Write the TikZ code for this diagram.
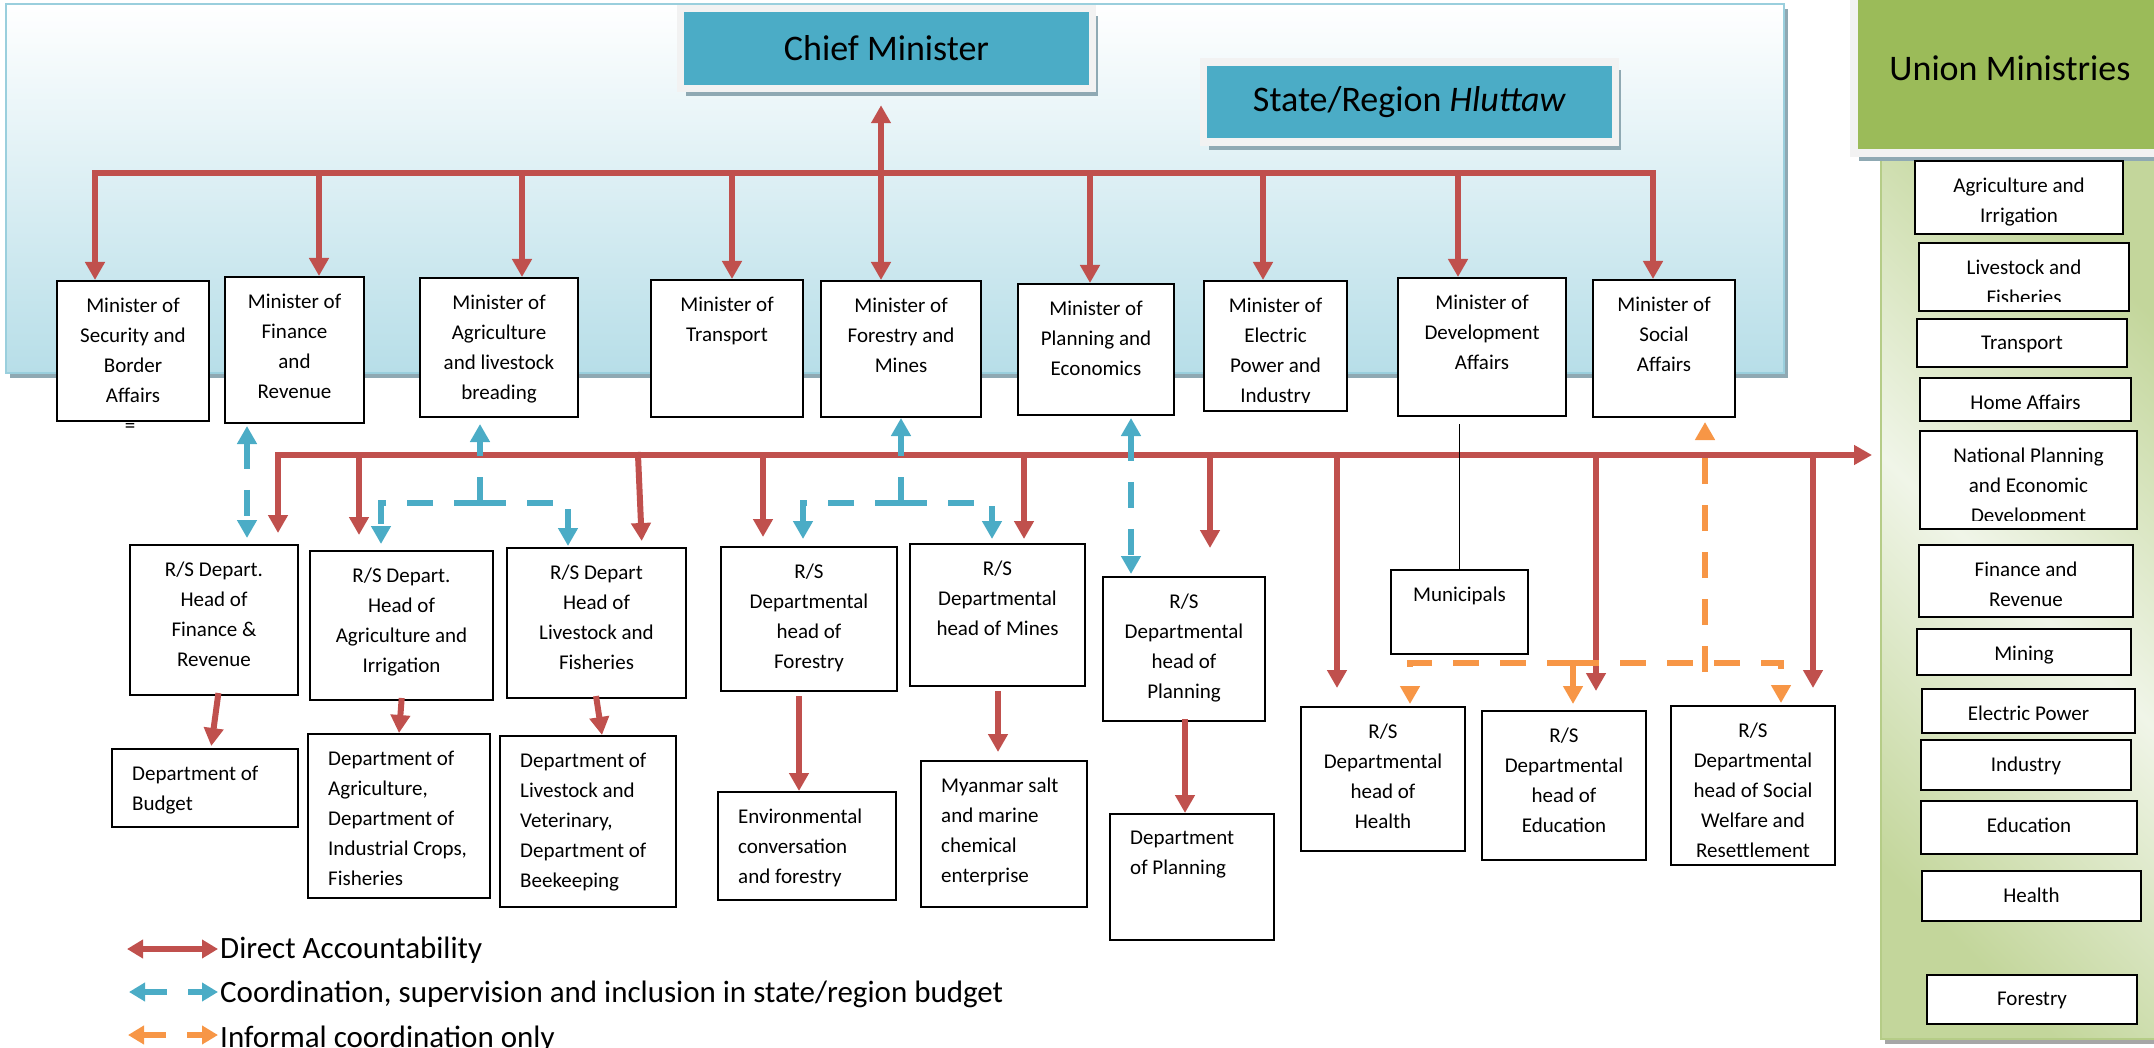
\documentclass[tikz,border=0pt]{standalone}
\usepackage{fontspec}
\setmainfont{Carlito}
\usetikzlibrary{arrows.meta,shadows}

\definecolor{redc}{HTML}{C0504D}
\definecolor{bluec}{HTML}{4BACC6}
\definecolor{orangec}{HTML}{F79646}
\definecolor{greenc}{HTML}{9BBB59}
\definecolor{panelblue}{HTML}{B7DEE8}
\definecolor{panelline}{HTML}{9ACFDD}
\definecolor{framec}{HTML}{F2F2F2}
\definecolor{shadowc}{HTML}{8FA9B3}
\definecolor{greenlight}{HTML}{F0F5E8}
\definecolor{greenmid}{HTML}{C3D69B}
\definecolor{greenedge}{HTML}{B5CC87}

\newcommand{\boxfont}{\fontsize{21}{30}\selectfont}
\newcommand{\titlefont}{\fontsize{36}{43}\selectfont}
\newcommand{\legfont}{\fontsize{31}{37}\selectfont}

\tikzset{
  box/.style={draw=black, line width=2pt, fill=white, anchor=north west, inner sep=0pt},
  boxtext/.style={anchor=north, align=center, inner sep=0pt, font=\boxfont},
  lefttext/.style={anchor=north west, align=left, inner sep=0pt, font=\boxfont},
  titlebox/.style={fill=bluec, draw=framec, line width=7.5pt, minimum width=412pt, minimum height=80pt,
      inner sep=0pt, font=\titlefont,
      drop shadow={shadow xshift=5pt, shadow yshift=-8pt, fill=shadowc, opacity=1}},
  bluepanel/.style={draw=panelline, line width=2pt, top color=white, bottom color=panelblue,
      drop shadow={shadow xshift=4pt, shadow yshift=-5pt, fill=shadowc, opacity=1}},
  greenpanel/.style={draw=greenedge, line width=2pt, top color=greenmid, bottom color=greenmid,
      middle color=greenlight, shading angle=-45,
      drop shadow={shadow xshift=4pt, shadow yshift=-5pt, fill=black!35, opacity=1}},
  redline/.style={draw=redc, line width=6pt, line cap=rect},
  redarr/.style={redline, ->},
  bluedash/.style={draw=bluec, line width=6pt, dash pattern=on 26pt off 21pt},
  orgdash/.style={draw=orangec, line width=6pt, dash pattern=on 26pt off 21pt},
  legtext/.style={anchor=base west, inner sep=0pt, font=\legfont},
}

\begin{document}
\begin{tikzpicture}[x=1pt, y=-1pt, >={Triangle[length=18pt,width=19pt]}]
    \useasboundingbox (0,0) rectangle (2154,1048);
    \clip (0,0) rectangle (2154,1048);

    % Backgrounds
    \draw[bluepanel] (6,4) rectangle (1784,373);
    \draw[greenpanel] (1881,160) rectangle (2170,1039);

    % Head boxes
    \node[titlebox] (chief) at (886.5,48.5) {Chief Minister};
    \node[titlebox] (hluttaw) at (1409.5,102) {State/Region \textit{Hluttaw}};
    \node[titlebox, fill=greenc, minimum width=312pt, minimum height=170pt] (union) at (2010,68) {Union Ministries};

    % Ministers
    \node[box, minimum width=152pt, minimum height=140pt] (msec) at (56,280) {};
    \node[boxtext] (msectext) at ([yshift=-18pt]msec.north) {Minister of\\Security and\\Border\\Affairs};
    \node[font=\boxfont, anchor=base, inner sep=0pt] (eqsign) at (130,432) {=};
    \node[box, minimum width=139pt, minimum height=146pt] (mfin) at (224,276) {};
    \node[boxtext] (mfintext) at ([yshift=-18pt]mfin.north) {Minister of\\Finance\\and\\Revenue};
    \node[box, minimum width=158pt, minimum height=139pt] (magr) at (419,277) {};
    \node[boxtext] (magrtext) at ([yshift=-18pt]magr.north) {Minister of\\Agriculture\\and livestock\\breading};
    \node[box, minimum width=152pt, minimum height=137pt] (mtra) at (650,279) {};
    \node[boxtext] (mtratext) at ([yshift=-18pt]mtra.north) {Minister of\\Transport};
    \node[box, minimum width=160pt, minimum height=136pt] (mfor) at (820,280) {};
    \node[boxtext] (mfortext) at ([yshift=-18pt]mfor.north) {Minister of\\Forestry and\\Mines};
    \node[box, minimum width=156pt, minimum height=131pt] (mpla) at (1017,283) {};
    \node[boxtext] (mplatext) at ([yshift=-18pt]mpla.north) {Minister of\\Planning and\\Economics};
    \node[box, minimum width=143pt, minimum height=130pt] (mele) at (1203,280) {};
    \begin{scope}
      \clip (mele.north west) rectangle ([yshift=10pt]mele.south east);
      \node[boxtext] (meletext) at ([yshift=-18pt]mele.north) {Minister of\\Electric\\Power and\\Industry};
    \end{scope}
    \node[box, minimum width=168pt, minimum height=138pt] (mdev) at (1397,277) {};
    \node[boxtext] (mdevtext) at ([yshift=-18pt]mdev.north) {Minister of\\Development\\Affairs};
    \node[box, minimum width=142pt, minimum height=137pt] (msoc) at (1592,279) {};
    \node[boxtext] (msoctext) at ([yshift=-18pt]msoc.north) {Minister of\\Social\\Affairs};

    % R/S departmental heads
    \node[box, minimum width=168pt, minimum height=150pt] (rsfin) at (129,544) {};
    \node[boxtext] (rsfintext) at ([yshift=-18pt]rsfin.north) {R/S Depart.\\Head of\\Finance \&\\Revenue};
    \node[box, minimum width=183pt, minimum height=149pt] (rsagr) at (309,550) {};
    \node[boxtext] (rsagrtext) at ([yshift=-18pt]rsagr.north) {R/S Depart.\\Head of\\Agriculture and\\Irrigation};
    \node[box, minimum width=179pt, minimum height=150pt] (rsliv) at (506,547) {};
    \node[boxtext] (rslivtext) at ([yshift=-18pt]rsliv.north) {R/S Depart\\Head of\\Livestock and\\Fisheries};
    \node[box, minimum width=176pt, minimum height=144pt] (rsfor) at (720,546) {};
    \node[boxtext] (rsfortext) at ([yshift=-18pt]rsfor.north) {R/S\\Departmental\\head of\\Forestry};
    \node[box, minimum width=175pt, minimum height=142pt] (rsmin) at (909,543) {};
    \node[boxtext] (rsmintext) at ([yshift=-18pt]rsmin.north) {R/S\\Departmental\\head of Mines};
    \node[box, minimum width=162pt, minimum height=144pt] (rspla) at (1102,576) {};
    \node[boxtext] (rsplatext) at ([yshift=-18pt]rspla.north) {R/S\\Departmental\\head of\\Planning};
    \node[box, minimum width=137pt, minimum height=84pt] (mun) at (1390,569) {};
    \node[boxtext] (muntext) at ([yshift=-18pt]mun.north) {Municipals};
    \node[box, minimum width=164pt, minimum height=144pt] (rshea) at (1300,706) {};
    \node[boxtext] (rsheatext) at ([yshift=-18pt]rshea.north) {R/S\\Departmental\\head of\\Health};
    \node[box, minimum width=164pt, minimum height=149pt] (rsedu) at (1481,710) {};
    \node[boxtext] (rsedutext) at ([yshift=-18pt]rsedu.north) {R/S\\Departmental\\head of\\Education};
    \node[box, minimum width=164pt, minimum height=159pt] (rssoc) at (1670,705) {};
    \begin{scope}
      \clip (rssoc.north west) rectangle ([yshift=10pt]rssoc.south east);
      \node[boxtext] (rssoctext) at ([yshift=-18pt]rssoc.north) {R/S\\Departmental\\head of Social\\Welfare and\\Resettlement};
    \end{scope}

    % Departments
    \node[box, minimum width=186pt, minimum height=78pt] (dbud) at (111,748) {};
    \node[lefttext] (dbudtext) at ([shift={(21pt,-18pt)}]dbud.north west) {Department of\\Budget};
    \node[box, minimum width=182pt, minimum height=164pt] (dagr) at (307,733) {};
    \node[lefttext] (dagrtext) at ([shift={(21pt,-18pt)}]dagr.north west) {Department of\\Agriculture,\\Department of\\Industrial Crops,\\Fisheries};
    \node[box, minimum width=176pt, minimum height=171pt] (dliv) at (499,735) {};
    \node[lefttext] (dlivtext) at ([shift={(21pt,-18pt)}]dliv.north west) {Department of\\Livestock and\\Veterinary,\\Department of\\Beekeeping};
    \node[box, minimum width=178pt, minimum height=108pt] (denv) at (717,791) {};
    \node[lefttext] (denvtext) at ([shift={(21pt,-18pt)}]denv.north west) {Environmental\\conversation\\and forestry};
    \node[box, minimum width=166pt, minimum height=146pt] (dsalt) at (920,760) {};
    \node[lefttext] (dsalttext) at ([shift={(21pt,-18pt)}]dsalt.north west) {Myanmar salt\\and marine\\chemical\\enterprise};
    \node[box, minimum width=164pt, minimum height=126pt] (dpla) at (1109,813) {};
    \node[lefttext] (dplatext) at ([shift={(21pt,-18pt)}]dpla.north west) {Department\\of Planning};

    % Union ministries
    \node[box, minimum width=208pt, minimum height=73pt] (uagr) at (1914,160) {};
    \node[boxtext] (uagrtext) at ([yshift=-18pt]uagr.north) {Agriculture and\\Irrigation};
    \node[box, minimum width=210pt, minimum height=68pt] (uliv) at (1918,242) {};
    \begin{scope}
      \clip (uliv.north west) rectangle ([yshift=10pt]uliv.south east);
      \node[boxtext] (ulivtext) at ([yshift=-18pt]uliv.north) {Livestock and\\Fisheries};
    \end{scope}
    \node[box, minimum width=210pt, minimum height=48pt] (utra) at (1916,318) {};
    \node[boxtext] (utratext) at ([yshift=-18pt]utra.north) {Transport};
    \node[box, minimum width=211pt, minimum height=43pt] (uhom) at (1919,377) {};
    \node[boxtext] (uhomtext) at ([yshift=-18pt]uhom.north) {Home Affairs};
    \node[box, minimum width=217pt, minimum height=98pt] (upla) at (1919,430) {};
    \begin{scope}
      \clip (upla.north west) rectangle ([yshift=10pt]upla.south east);
      \node[boxtext] (uplatext) at ([yshift=-18pt]upla.north) {National Planning\\and Economic\\Development};
    \end{scope}
    \node[box, minimum width=214pt, minimum height=72pt] (ufin) at (1918,544) {};
    \node[boxtext] (ufintext) at ([yshift=-18pt]ufin.north) {Finance and\\Revenue};
    \node[box, minimum width=214pt, minimum height=46pt] (umin) at (1916,628) {};
    \node[boxtext] (umintext) at ([yshift=-18pt]umin.north) {Mining};
    \node[box, minimum width=213pt, minimum height=44pt] (uele) at (1921,688) {};
    \node[boxtext] (ueletext) at ([yshift=-18pt]uele.north) {Electric Power};
    \node[box, minimum width=210pt, minimum height=50pt] (uind) at (1920,739) {};
    \node[boxtext] (uindtext) at ([yshift=-18pt]uind.north) {Industry};
    \node[box, minimum width=216pt, minimum height=53pt] (uedu) at (1920,800) {};
    \node[boxtext] (uedutext) at ([yshift=-18pt]uedu.north) {Education};
    \node[box, minimum width=219pt, minimum height=50pt] (uhea) at (1921,870) {};
    \node[boxtext] (uheatext) at ([yshift=-18pt]uhea.north) {Health};
    \node[box, minimum width=210pt, minimum height=49pt] (ufor) at (1926,974) {};
    \node[boxtext] (ufortext) at ([yshift=-18pt]ufor.north) {Forestry};

    % Direct accountability, upper level
    \draw[redline] (95,173) -- (1653,173);
    \draw[redarr] (95,173) -- (95,0 |- msec.north);
    \draw[redarr] (319,173) -- (319,0 |- mfin.north);
    \draw[redarr] (522,173) -- (522,0 |- magr.north);
    \draw[redarr] (732,173) -- (732,0 |- mtra.north);
    \draw[redline, <->, shorten <=13pt] (881,0 |- chief.south) -- (881,0 |- mfor.north);
    \draw[redarr] (1090,173) -- (1090,0 |- mpla.north);
    \draw[redarr] (1263,173) -- (1263,0 |- mele.north);
    \draw[redarr] (1458,173) -- (1458,0 |- mdev.north);
    \draw[redarr] (1653,173) -- (1653,0 |- msoc.north);

    % Direct accountability, lower level
    \coordinate (unionin) at (1872,455);
    \draw[redarr] (278,455) -- (unionin);
    \draw[redarr, shorten >=11pt] (278,455) -- (278,0 |- rsfin.north);
    \draw[redarr, shorten >=15pt] (359,455) -- (359,0 |- rsagr.north);
    \draw[redarr, shorten >=6pt] (638,455) -- (642,0 |- rsliv.north);
    \draw[redarr, shorten >=9pt] (763,455) -- (763,0 |- rsfor.north);
    \draw[redarr, shorten >=4pt] (1024,455) -- (1024,0 |- rsmin.north);
    \draw[redarr, shorten >=28pt] (1210,455) -- (1210,0 |- rspla.north);
    \draw[redarr, shorten >=18pt] (1337,455) -- (1337,0 |- rshea.north);
    \draw[redarr, shorten >=19pt] (1596,455) -- (1596,0 |- rsedu.north);
    \draw[redarr, shorten >=17pt] (1813,455) -- (1813,0 |- rssoc.north);

    \draw[redarr, shorten >=2pt] ([xshift=4pt]rsfin.south) -- ([xshift=6pt]dbud.north);
    \draw[redarr] (rsagr.south) -- (dagr.north);
    \draw[redarr] (rsliv.south) -- ([xshift=14pt]dliv.north);
    \draw[redarr, shorten <=7pt] ([xshift=-10pt]rsfor.south) -- ([xshift=-8pt]denv.north);
    \draw[redarr, shorten <=7pt, shorten >=8pt] ([xshift=0.5pt]rsmin.south) -- ([xshift=-6pt]dsalt.north);
    \draw[redarr] ([xshift=1pt]rspla.south) -- ([xshift=-7pt]dpla.north);

    \draw[line width=1.5pt, shorten >=7pt] (mun.north) -- (mun.north |- mdev.south);

    % Coordination and budget
    \draw[bluedash, <->, shorten <=2pt, shorten >=6pt] (247,0 |- mfin.south) -- (247,0 |- rsfin.north);
    \coordinate (agrj) at (480,503);
    \draw[bluedash, ->, shorten >=6pt] (agrj) -- (agrj |- magr.south);
    \draw[bluedash, ->, shorten >=6pt] (agrj) -| (381,0 |- rsagr.north);
    \draw[bluedash, ->, shorten >=1pt] (agrj) -| (568,0 |- rsliv.north);
    \coordinate (forj) at (901,503);
    \draw[bluedash, ->] (forj) -- (forj |- mfor.south);
    \draw[bluedash, ->, shorten >=7pt] (forj) -| (803,0 |- rsfor.north);
    \draw[bluedash, ->, shorten >=4pt] (forj) -| (992,0 |- rsmin.north);
    \draw[bluedash, <->, shorten <=2pt, shorten >=2pt] (1131,0 |- mpla.south) -- (1131,0 |- rspla.north);

    % Informal coordination
    \coordinate (socj) at (1705,672);
    \draw[orgdash, ->, shorten >=4pt] (socj) -- (socj |- msoc.south);
    \coordinate (orgj) at (1573,663);
    \draw[orgdash, ->, shorten >=6pt] (orgj) -- (orgj |- rsedu.north);
    \draw[orgdash, ->, shorten >=2pt] (orgj) -| (1410,0 |- rshea.north);
    \draw[orgdash, ->, shorten >=2pt] (orgj) -| (1781,0 |- rssoc.north);

    % Legend
    \node[legtext] (legdirect) at (220,958) {Direct Accountability};
    \node[legtext] (legcoord) at (220,1002) {Coordination, supervision and inclusion in state/region budget};
    \node[legtext] (leginformal) at (220,1047) {Informal coordination only};
    \draw[redline, <->, >={Triangle[length=16pt,width=18pt]}] ([shift={(-93pt,9pt)}]legdirect.base west) -- ([shift={(-2pt,9pt)}]legdirect.base west);
    \draw[bluedash, dash pattern=on 23pt off 21pt, <->, >={Triangle[length=16pt,width=18pt]}] ([shift={(-91pt,10pt)}]legcoord.base west) -- ([shift={(-2pt,10pt)}]legcoord.base west);
    \draw[orgdash, dash pattern=on 23pt off 21pt, <->, >={Triangle[length=16pt,width=18pt]}] ([shift={(-92pt,12pt)}]leginformal.base west) -- ([shift={(-2pt,12pt)}]leginformal.base west);

\end{tikzpicture}
\end{document}
